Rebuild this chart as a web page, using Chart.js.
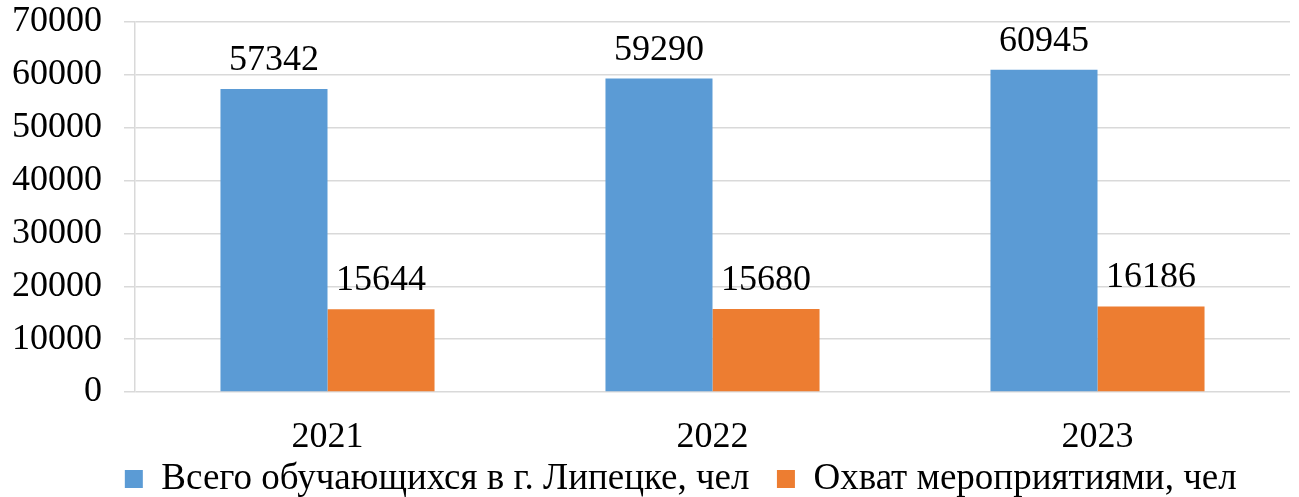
<!DOCTYPE html>
<html>
<head>
<meta charset="utf-8">
<script src="https://cdn.jsdelivr.net/npm/chart.js@4"></script>
<style>
  html, body { margin: 0; padding: 0; background: #fff; }
  #wrap { width: 1299px; height: 497px; position: relative; }
</style>
</head>
<body>
<div id="wrap"><canvas id="chart"></canvas></div>
<script>
// Chart data
const years = ['2021', '2022', '2023'];
const totalStudents = [57342, 59290, 60945];
const eventCoverage = [15644, 15680, 16186];
const seriesNames = ['Всего обучающихся в г. Липецке, чел', 'Охват мероприятиями, чел'];

const FONT = "'Liberation Serif', 'Times New Roman', serif";

// Draw value labels above each bar
const valueLabels = {
    id: 'valueLabels',
    afterDatasetsDraw(chart) {
        const ctx = chart.ctx;
        ctx.save();
        ctx.font = '36px ' + FONT;
        ctx.fillStyle = '#000';
        ctx.textAlign = 'center';
        ctx.textBaseline = 'alphabetic';
        chart.data.datasets.forEach((ds, i) => {
            chart.getDatasetMeta(i).data.forEach((bar, j) => {
                ctx.fillText(String(ds.data[j]), bar.x, bar.y - 19);
            });
        });
        ctx.restore();
    }
};

// The original legend sits a bit right of centre
const legendShift = {
    id: 'legendShift',
    afterLayout(chart) {
        if (chart.legend) chart.legend.left = 71.5;
    }
};

const ctx = document.getElementById('chart').getContext('2d');

new Chart(ctx, {
    type: 'bar',
    data: {
        labels: years,
        datasets: [
            {
                label: seriesNames[0] + '  ', // extra gap before the second item
                data: totalStudents,
                backgroundColor: '#5B9BD5'
            },
            {
                label: seriesNames[1],
                data: eventCoverage,
                backgroundColor: '#ED7D31'
            }
        ]
    },
    options: {
        responsive: true,
        maintainAspectRatio: false,
        animation: false,
        layout: {
            padding: { left: 0, right: 9, top: 22, bottom: -10.5 }
        },
        datasets: {
            bar: {
                barPercentage: 1,
                categoryPercentage: 0.556
            }
        },
        scales: {
            x: {
                afterFit(scale) { scale.height = 59.5; },
                grid: { display: false, drawTicks: false },
                border: { display: false },
                ticks: {
                    color: '#000',
                    padding: 28,
                    font: { family: FONT, size: 36, lineHeight: 1 }
                }
            },
            y: {
                min: 0,
                max: 70000,
                afterFit(scale) {
                    scale.width = 135;
                    // keep the tick padding from pushing the plot area in
                    scale.paddingTop = 0;
                    scale.paddingBottom = 0;
                },
                grid: {
                    color: '#d9d9d9',
                    lineWidth: 1.5,
                    tickLength: 11
                },
                border: { display: true, color: '#d9d9d9', width: 1.5 },
                ticks: {
                    stepSize: 10000,
                    autoSkip: false,
                    color: '#000',
                    padding: 22,
                    font: { family: FONT, size: 36 },
                    callback: (v) => String(v)
                }
            }
        },
        plugins: {
            tooltip: { enabled: false },
            legend: {
                display: true,
                position: 'bottom',
                labels: {
                    color: '#000',
                    boxWidth: 18,
                    boxHeight: 18,
                    padding: 9,
                    font: { family: FONT, size: 37, lineHeight: 1 }
                }
            }
        }
    },
    plugins: [valueLabels, legendShift]
});
</script>
</body>
</html>
